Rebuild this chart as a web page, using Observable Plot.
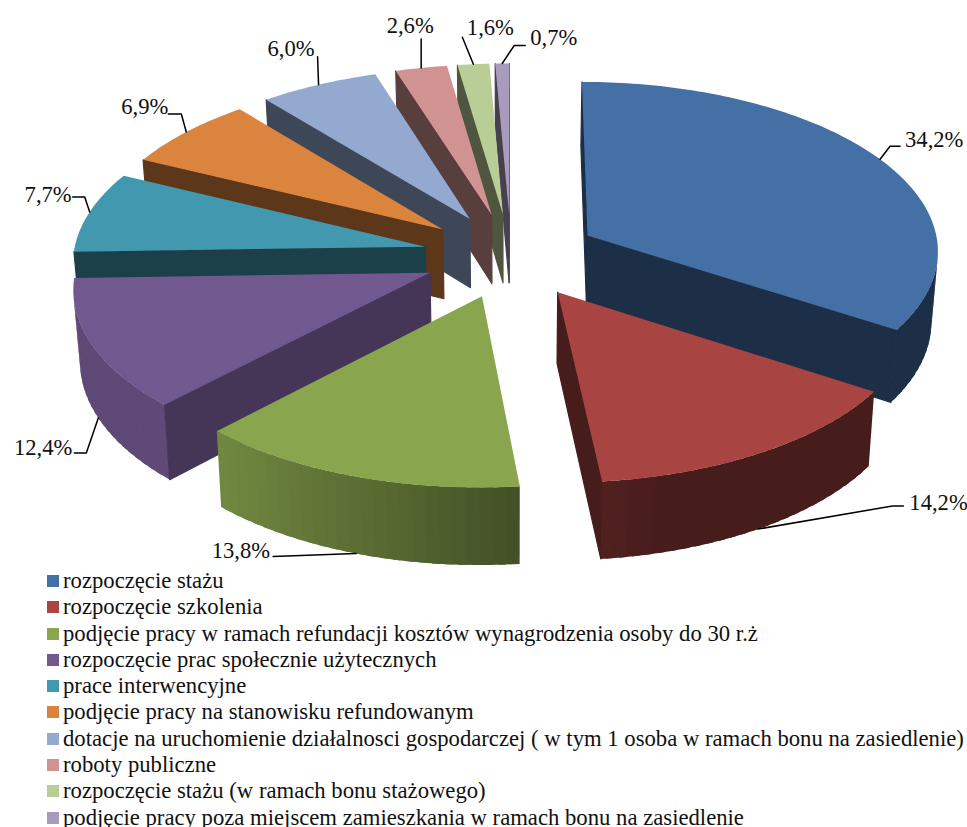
<!DOCTYPE html>
<html lang="pl">
<head>
<meta charset="utf-8">
<script src="https://cdn.jsdelivr.net/npm/d3@7"></script>
<script src="https://cdn.jsdelivr.net/npm/@observablehq/plot@0.6"></script>
<style>
html,body{margin:0;padding:0;background:#fff;overflow:hidden;width:967px;height:827px}
#legend{position:absolute;left:47px;top:568px;font:22.7px/26.3px "Liberation Serif",serif;color:#111;white-space:nowrap}
#legend i{display:inline-block;width:12px;height:12px;margin-right:4px;vertical-align:1px}
#chart{position:absolute;left:0;top:0}
</style>
</head>
<body>
<div id="chart"></div>
<div id="legend"></div>
<script>
const categories = [
  "rozpoczęcie stażu",
  "rozpoczęcie szkolenia",
  "podjęcie pracy w ramach refundacji kosztów wynagrodzenia osoby do 30 r.ż",
  "rozpoczęcie prac społecznie użytecznych",
  "prace interwencyjne",
  "podjęcie pracy na stanowisku refundowanym",
  "dotacje na uruchomienie działalnosci gospodarczej ( w tym 1 osoba w ramach bonu na zasiedlenie)",
  "roboty publiczne",
  "rozpoczęcie stażu (w ramach bonu stażowego)",
  "podjęcie pracy poza miejscem zamieszkania w ramach bonu na zasiedlenie"
];
const values = [34.2, 14.2, 13.8, 12.4, 7.7, 6.9, 6.0, 2.6, 1.6, 0.7];
const colors = ["#4470a6","#a84442","#89a54e","#71588f","#4198af","#db843d","#93a9cf","#d19392","#b9cd96","#a99bbd"];

// Draw order, back to front
const order = [9,8,7,6,5,4,3,2,0,1];
// Leader layout, relative to the rim anchor: [useWallBottom, elbow dx, elbow dy, end dx, end dy, text dx, text dy]
const leaders = [
  [0, 10,-13, 20,-13, 25,-20],
  [1, 134,-23, 145,-23, 151,-26],
  [1, -83, 3, -83, 3, -86,-3],
  [1, -12, 35, -24, 35, -26, 30],
  [0, -5,-15, -17,-15, -18,-17],
  [0, -5,-18, -18,-18, -18,-25],
  [0, -1,-28, -1,-28, -4,-36],
  [0, 0,-29, 0,-29, -11,-42],
  [0, -11,-27, -11,-27, 17,-36],
  [0, 12,-18, 23,-18, 28,-26]
];

const W = 967, H = 567;
const cx = 510.5, cy = 255, A = 352, B = 169, K = 0.08, E = 0.25, D = 70, SHRINK = 0.985;
const rad = d => d * Math.PI / 180;

function project(u, v, low) {
  const w = 1 / (1 + K * v);
  const x = A * u * w, y = -B * v * w;
  return low ? {x: cx + x * SHRINK, y: cy + y + D * w} : {x: cx + x, y: cy + y};
}

const total = d3.sum(values);
let acc = 0;
const slices = values.map((v, i) => {
  const a0 = acc / total * 360; acc += v;
  const a1 = acc / total * 360;
  const m = rad((a0 + a1) / 2);
  return {i, a0, a1, mid: (a0 + a1) / 2, ex: E * Math.sin(m), ey: E * Math.cos(m)};
});
const rim = (s, deg, low) => project(s.ex + Math.sin(rad(deg)), s.ey + Math.cos(rad(deg)), low);
const apex = (s, low) => project(s.ex, s.ey, low);

const shade = (c, k) => { const r = d3.rgb(c); return d3.rgb(r.r * k, r.g * k, r.b * k).formatHex(); };
const rimShade = d3.scaleLinear().domain([-0.7, 0.25]).range([0.83, 0.42]).clamp(true);
const wallShade = i => i === 3 ? 0.61 : 0.42;

function area(p) {
  let t = 0;
  p.forEach((a, j) => { const b = p[(j + 1) % p.length]; t += a.x * b.y - b.x * a.y; });
  return t / 2;
}

const facePts = [];
let fid = 0;
function addFace(pts, color, edge) {
  const id = fid++;
  pts.forEach(p => facePts.push({x: p.x, y: p.y, face: id, color, edge}));
}
for (const idx of order) {
  const s = slices[idx], c = colors[idx];
  const n = Math.max(1, Math.ceil((s.a1 - s.a0) / 2));
  const step = (s.a1 - s.a0) / n;
  for (let j = 0; j < n; j++) {
    const d0 = s.a0 + step * j, d1 = d0 + step;
    // each strip runs on under the next one, so no seam shows between them
    const d2 = Math.min(s.a1, d1 + step * 0.6);
    const q = [rim(s, d0), rim(s, d2), rim(s, d2, true), rim(s, d0, true)];
    const col = shade(c, rimShade(Math.sin(rad((d0 + d1) / 2))));
    if (area(q) < 0) addFace(q, col, "none");
  }
  const radial = (deg, first) => {
    const q = first ? [apex(s), rim(s, deg), rim(s, deg, true), apex(s, true)]
                    : [rim(s, deg), apex(s), apex(s, true), rim(s, deg, true)];
    const col = shade(c, wallShade(idx));
    if (area(q) < 0) addFace(q, col, col);
  };
  radial(s.a0, true);
  radial(s.a1, false);
  const top = [apex(s)];
  const nt = Math.ceil((s.a1 - s.a0));
  for (let j = 0; j <= nt; j++) top.push(rim(s, s.a0 + (s.a1 - s.a0) * j / nt));
  addFace(top, c, "none");
}

const leaderPts = [], labels = [];
slices.forEach(s => {
  const [low, ex, ey, fx, fy, tx, ty] = leaders[s.i];
  const a = rim(s, s.mid, !!low);
  [[0,0],[ex,ey],[fx,fy]].forEach(([dx,dy]) => leaderPts.push({x: a.x + dx, y: a.y + dy, id: s.i}));
  labels.push({x: a.x + tx, y: a.y + ty, i: s.i,
    text: values[s.i].toFixed(1).replace(".", ",") + "%"});
});
const textAnchor = ["start","start","end","end","end","end","end","middle","middle","start"];

const plot = Plot.plot({
  width: W, height: H, margin: 0,
  x: {type: "identity", axis: null},
  y: {type: "identity", axis: null},
  color: {type: "identity"},
  marks: [
    Plot.line(facePts, {x: "x", y: "y", z: "face", fill: "color", stroke: "edge", strokeWidth: 1.2, curve: "linear-closed"}),
    Plot.line(leaderPts, {x: "x", y: "y", z: "id", stroke: "#000", strokeWidth: 1.5, curve: "linear"}),
    ...["start","middle","end"].map(t =>
      Plot.text(labels.filter(l => textAnchor[l.i] === t), {
        x: "x", y: "y", text: "text", textAnchor: t, fontSize: 22.6,
        fontFamily: "Liberation Serif", fill: "#111"
      }))
  ]
});
plot.style.background = "transparent";
document.getElementById("chart").append(plot);

const legend = d3.select("#legend");
categories.forEach((c, i) => {
  const row = legend.append("div");
  row.append("i").style("background", colors[i]);
  row.append("span").text(c);
});
</script>
</body>
</html>
